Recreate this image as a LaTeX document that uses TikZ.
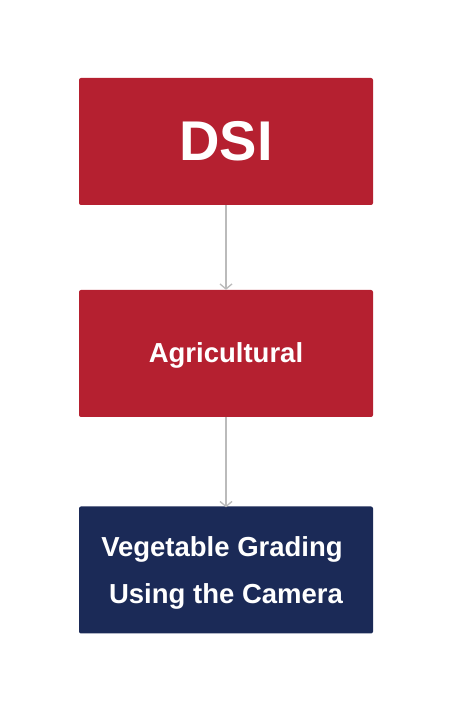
\documentclass[tikz,border=0pt]{standalone}
\usepackage{fontspec}
\setmainfont{Liberation Sans}
\usetikzlibrary{arrows.meta}
\definecolor{boxred}{HTML}{B52030}
\definecolor{boxnavy}{HTML}{1B2A57}
\definecolor{linkgray}{HTML}{BBBBBB}
\begin{document}
\begin{tikzpicture}[x=1pt,y=1pt,
  box/.style={rectangle, rounded corners=2pt, minimum width=294pt, minimum height=127pt, inner sep=0pt},
  boxtext/.style={text=white, align=center, inner sep=0pt},
  link/.style={draw=linkgray, line width=1.3pt, -{Straight Barb[length=5pt,width=12pt,line width=1.3pt]}}]
\useasboundingbox (0,0) rectangle (452,712);
\node[box, fill=boxred] (dsi) at (226,570.5) {};
\node[box, fill=boxred] (agri) at (226,358.5) {};
\node[box, fill=boxnavy] (veg) at (226,142) {};
\node[boxtext, font=\fontsize{56}{60}\selectfont\bfseries] (dsitext) at (dsi.center) {DSI};
\node[boxtext, font=\fontsize{27.5}{30}\selectfont\bfseries] (agritext) at ([yshift=-2pt]agri.center) {Agricultural};
\node[boxtext, font=\fontsize{27.5}{47}\selectfont\bfseries] (vegtext) at ([yshift=-3pt]veg.center) {Vegetable Grading\hspace*{8pt}\\Using the Camera};
\draw[link] (dsi.south) -- (agri.north);
\draw[link] (agri.south) -- ([yshift=-1pt]veg.north);
\end{tikzpicture}
\end{document}
